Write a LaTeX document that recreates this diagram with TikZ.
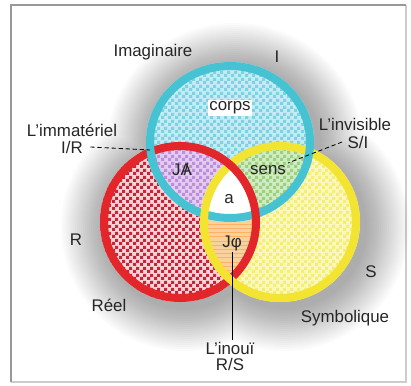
\documentclass[tikz,border=0pt]{standalone}
\usepackage{fontspec}
\setmainfont{Liberation Sans}
\usetikzlibrary{patterns, positioning}
\usepackage{xcolor}

\definecolor{ringI}{HTML}{45C3D3}
\definecolor{ringR}{HTML}{E3262A}
\definecolor{ringS}{HTML}{F2E431}
\definecolor{fillI}{HTML}{7FD2E4}
\definecolor{fillR}{HTML}{FAD4D8}
\definecolor{dotR}{HTML}{C42838}
\definecolor{fillS}{HTML}{F4EE72}
\definecolor{fillJA}{HTML}{BE8EDC}
\definecolor{fillsens}{HTML}{9CD27E}
\definecolor{fillJP}{HTML}{F8D29A}

% small checker cells
\pgfdeclarepatternformonly{finecheck}{\pgfpointorigin}{\pgfpoint{5pt}{5pt}}{\pgfpoint{5pt}{5pt}}{
  \pgfpathrectangle{\pgfpointorigin}{\pgfpoint{2.5pt}{2.5pt}}
  \pgfpathrectangle{\pgfpoint{2.5pt}{2.5pt}}{\pgfpoint{2.5pt}{2.5pt}}
  \pgfusepath{fill}
}

\newcommand{\barA}{\ooalign{A\cr\hidewidth/\hidewidth}}

\begin{document}
\begin{tikzpicture}[x=0.025cm, y=-0.025cm,
    lbl/.style={font=\fontsize{12}{13}\selectfont, inner sep=1pt, text=black!85},
    pointer/.style={densely dashed, line width=0.6pt},
    band/.style={line width=0.2cm},
    ringshapeI/.style={x radius=84, y radius=80}]
  \useasboundingbox (0,0) rectangle (411,385);

  % circle centres
  \coordinate (cI) at (230,142);
  \coordinate (cR) at (180,222);
  \coordinate (cS) at (280,222);

  % frame
  \fill[white] (11,5) rectangle (406,382);
  \draw[gray!40, line width=1.2pt] (406,5) -- (406,382) -- (11,382);
  \draw[gray!80, line width=1.5pt] (11,382) -- (11,5) -- (406,5);

  % soft halo round the knot
  \foreach \k in {1,...,22} {
      \fill[black, opacity=0.014] ([shift={(5,5)}]cI) ellipse [x radius=84+2*\k, y radius=80+2*\k]
        ([shift={(5,5)}]cR) circle (80+2*\k) ([shift={(5,5)}]cS) circle (80+2*\k);
    }

  % plain regions
  \fill[fillR] (cR) circle (80);
  \fill[pattern=finecheck, pattern color=dotR] (cR) circle (80);
  \fill[white!55!fillS] (cS) circle (80);
  \fill[pattern=finecheck, pattern color=fillS] (cS) circle (80);
  \fill[white!55!fillI] (cI) ellipse [ringshapeI];
  \fill[pattern=finecheck, pattern color=fillI] (cI) ellipse [ringshapeI];

  % overlaps
  \begin{scope}
    \clip (cR) circle (80);
    \fill[white!55!fillJA] (cI) ellipse [ringshapeI];
    \fill[pattern=finecheck, pattern color=fillJA] (cI) ellipse [ringshapeI];
    \fill[fillJP] (cS) circle (80);
    \fill[pattern=horizontal lines, pattern color=orange!60] (cS) circle (80);
  \end{scope}
  \begin{scope}
    \clip (cI) ellipse [ringshapeI];
    \fill[white!55!fillsens] (cS) circle (80);
    \fill[pattern=finecheck, pattern color=fillsens] (cS) circle (80);
    \clip (cR) circle (80);
    \fill[white] (cS) circle (80);
  \end{scope}

  % rings
  \draw[band, ringI] (cI) ellipse [x radius=80, y radius=76];
  \draw[band, ringS] (cS) circle (76);
  \draw[band, ringR] (cR) circle (76);

  % outer crossings
  \begin{scope}
    \clip (150,150) circle (13);
    \draw[band, ringI] (cI) ellipse [x radius=80, y radius=76];
  \end{scope}
  \begin{scope}
    \clip (311,150) circle (13);
    \draw[band, ringI] (cI) ellipse [x radius=80, y radius=76];
  \end{scope}
  \begin{scope}
    \clip (230,284) circle (13);
    \draw[band, ringS] (cS) circle (76);
  \end{scope}

  % labels
  \node[lbl] (imag) at (153,52) {Imaginaire};
  \node[lbl] (I) at (277,57) {I};
  \node[lbl, fill=white] (corps) at (230,108) {corps};
  \node[lbl] (immat) at (72,130) {L'immatériel};
  \node[lbl] (ir) at (72,147) {I/R};
  \node[lbl] (invis) at (355,124) {L'invisible};
  \node[lbl] (si) at (358,142) {S/I};
  \node[lbl] (JA) at (182,170) {J\barA};
  \node[lbl] (sens) at (268,170) {sens};
  \node[lbl] (a) at (229,199) {a};
  \node[lbl] (JP) at (232,243) {Jφ};
  \node[lbl] (R) at (76,240) {R};
  \node[lbl] (reel) at (109,305) {Réel};
  \node[lbl] (S) at (371,272) {S};
  \node[lbl] (symb) at (345,318) {Symbolique};
  \node[lbl] (inoui) at (230,348) {L'inouï};
  \node[lbl] (rs) at (230,364) {R/S};

  % pointers
  \coordinate (xIR) at (150,150);
  \coordinate (xSI) at (288,163);
  \draw[pointer] (ir.east) ++(6,0) -- (xIR);
  \draw[pointer] (si.west) ++(-4,0) -- (xSI);
  \draw[line width=0.7pt] (JP.south) -- (JP.south |- inoui.north);
\end{tikzpicture}
\end{document}
